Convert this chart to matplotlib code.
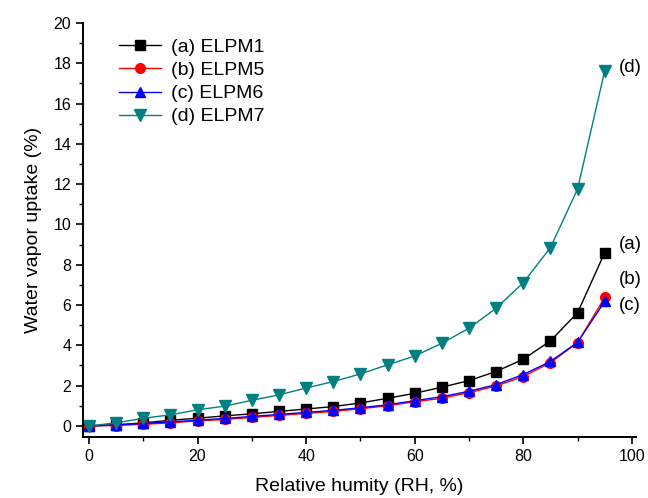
import numpy as np
import matplotlib.pyplot as plt
from matplotlib.ticker import MultipleLocator

plt.rcParams['font.family'] = ['Liberation Sans', 'DejaVu Sans']

# relative humidity steps (%)
rh = [0, 5, 10, 15, 20, 25, 30, 35, 40, 45, 50, 55, 60, 65, 70, 75, 80, 85, 90, 95]

# water vapor uptake (%) per membrane
elpm1 = [0, 0.05, 0.15, 0.28, 0.38, 0.50, 0.60, 0.72, 0.84, 0.96,
         1.14, 1.37, 1.62, 1.92, 2.25, 2.70, 3.31, 4.22, 5.62, 8.60]
elpm5 = [0, 0.02, 0.08, 0.15, 0.25, 0.32, 0.42, 0.52, 0.62, 0.72,
         0.85, 1.00, 1.20, 1.37, 1.65, 1.98, 2.45, 3.14, 4.13, 6.38]
elpm6 = [0, 0.05, 0.12, 0.20, 0.28, 0.37, 0.47, 0.57, 0.67, 0.77,
         0.90, 1.05, 1.25, 1.45, 1.72, 2.05, 2.55, 3.20, 4.15, 6.18]
elpm7 = [0, 0.15, 0.38, 0.55, 0.80, 0.98, 1.27, 1.54, 1.88, 2.20,
         2.58, 3.03, 3.47, 4.10, 4.85, 5.84, 7.11, 8.85, 11.76, 17.63]

labels = ['(a) ELPM1', '(b) ELPM5', '(c) ELPM6', '(d) ELPM7']
end_tags = ['(a)', '(b)', '(c)', '(d)']
tag_y = [8.98, 7.25, 5.96, 17.77]

fig = plt.figure(figsize=(6.48, 4.98), dpi=100)
ax = fig.add_axes([0.128, 0.1225, 0.853, 0.8315])

ax.plot(rh, elpm1, color='black', marker='s', ms=7, lw=1, label=labels[0])
ax.plot(rh, elpm5, color='red', marker='o', ms=7, lw=1, label=labels[1])
ax.plot(rh, elpm6, color='blue', marker='^', ms=7.5, lw=1, label=labels[2])
ax.plot(rh, elpm7, color='#008080', marker='v', ms=8, lw=1, label=labels[3])

for tag, ty in zip(end_tags, tag_y):
    ax.text(97.6, ty, tag, fontsize=13.5, ha='left', va='center')

ax.set_xlim(-1.1, 100.7)
ax.set_ylim(-0.55, 20)
ax.xaxis.set_major_locator(MultipleLocator(20))
ax.xaxis.set_minor_locator(MultipleLocator(10))
ax.yaxis.set_major_locator(MultipleLocator(2))
ax.yaxis.set_minor_locator(MultipleLocator(1))

ax.spines['top'].set_visible(False)
ax.spines['right'].set_visible(False)
for s in ('left', 'bottom'):
    ax.spines[s].set_linewidth(1.4)
ax.tick_params(which='major', direction='out', length=5, width=1.2, labelsize=11.5)
ax.tick_params(which='minor', direction='out', length=3, width=1.0)

ax.set_xlabel('Relative humity (RH, %)', fontsize=14, labelpad=10)
ax.set_ylabel('Water vapor uptake (%)', fontsize=14, labelpad=8)

ax.legend(loc='upper left', bbox_to_anchor=(0.04, 0.995), frameon=False,
          fontsize=14, handlelength=2.2, handletextpad=0.5,
          labelspacing=0.28, borderaxespad=0.3)

fig.savefig('out.png', dpi=100)
